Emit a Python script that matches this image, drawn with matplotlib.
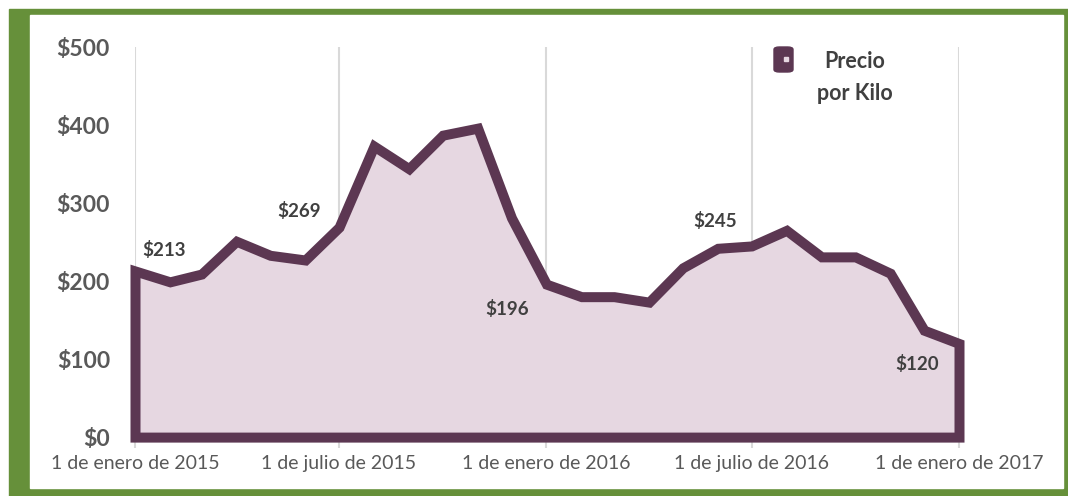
import numpy as np
import pandas as pd
import matplotlib
matplotlib.use("Agg")
import matplotlib.pyplot as plt
from matplotlib.patches import Rectangle, FancyBboxPatch

# monthly price per kilo, Jan 2015 .. Jan 2017
months = pd.date_range("2015-01-01", "2017-01-01", freq="MS")
prices = [213, 199, 209, 251, 233, 227, 269, 373, 344, 387, 396, 281,
          196, 180, 180, 173, 217, 242, 245, 265, 231, 231, 210, 137, 120]

tick_dates = pd.to_datetime(["2015-01-01", "2015-07-01", "2016-01-01",
                             "2016-07-01", "2017-01-01"])
tick_labels = ["1 de enero de 2015", "1 de julio de 2015", "1 de enero de 2016",
               "1 de julio de 2016", "1 de enero de 2017"]
y_ticks = [0, 100, 200, 300, 400, 500]

# labelled points: (index, text offset in points)
labelled = [(0, (21, 15)), (6, (-29, 12)), (12, (-28, -18)),
            (18, (-26, 18)), (24, (-30, -15))]

LINE = "#5C3752"
FILL = "#E6D7E1"
GREEN = "#66903A"

plt.rcParams['font.family'] = ['Lato', 'DejaVu Sans']

fig = plt.figure(figsize=(10.68, 4.96), dpi=100)

# green frame
fig.patches.append(Rectangle((9 / 1068, 0), 1059 / 1068, 487 / 496,
                             transform=fig.transFigure, color=GREEN, zorder=-2))
fig.patches.append(Rectangle((30 / 1068, 8 / 496), 1033 / 1068, 473 / 496,
                             transform=fig.transFigure, color="white", zorder=-1))

ax = fig.add_axes([135 / 1068, 55 / 496, 824 / 1068, 394 / 496])
ax.set_facecolor("none")
ax.set_zorder(1)

area = ax.fill_between(months, 0, prices, facecolor=FILL, edgecolor=LINE,
                       linewidth=7.2, zorder=3, clip_on=False)
area.set_joinstyle("miter")

for i, off in labelled:
    ax.annotate("$%d" % prices[i], (months[i], prices[i]), xytext=off,
                textcoords="offset points", ha="center", va="center",
                fontsize=13.5, fontweight="bold", color="#404040", zorder=5)

ax.set_xlim(months[0], months[-1])
ax.set_ylim(-5, 500)
ax.set_xticks(tick_dates)
ax.set_xticklabels(tick_labels, fontsize=14, color="#595959")
ax.set_yticks(y_ticks)
ax.set_yticklabels(["$%d" % v for v in y_ticks], fontsize=16.5,
                   fontweight="bold", color="#595959")
ax.tick_params(axis="y", length=0, pad=18)
ax.tick_params(axis="x", length=5, color="#D9D9D9", width=1.5, pad=5)
ax.grid(axis="x", color="#D9D9D9", linewidth=1.5, zorder=0)
for s in ["left", "right", "top"]:
    ax.spines[s].set_visible(False)
ax.spines["bottom"].set_color("#D9D9D9")
ax.spines["bottom"].set_linewidth(1.5)

# legend
fig.patches.append(FancyBboxPatch((774 / 1068, (496 - 72) / 496), 19 / 1068, 25 / 496,
                                  boxstyle="round,pad=0,rounding_size=0.005",
                                  transform=fig.transFigure, color=LINE, zorder=6))
fig.patches.append(Rectangle((784 / 1068, (496 - 61) / 496), 4 / 1068, 4 / 496,
                             transform=fig.transFigure, color="#E6D7E1", zorder=7))
fig.text(855 / 1068, 1 - 61 / 496, "Precio", ha="center", va="center",
         fontsize=15.5, fontweight="bold", color="#404040")
fig.text(855 / 1068, 1 - 93 / 496, "por Kilo", ha="center", va="center",
         fontsize=15.5, fontweight="bold", color="#404040")

fig.savefig("out.png", dpi=100)
